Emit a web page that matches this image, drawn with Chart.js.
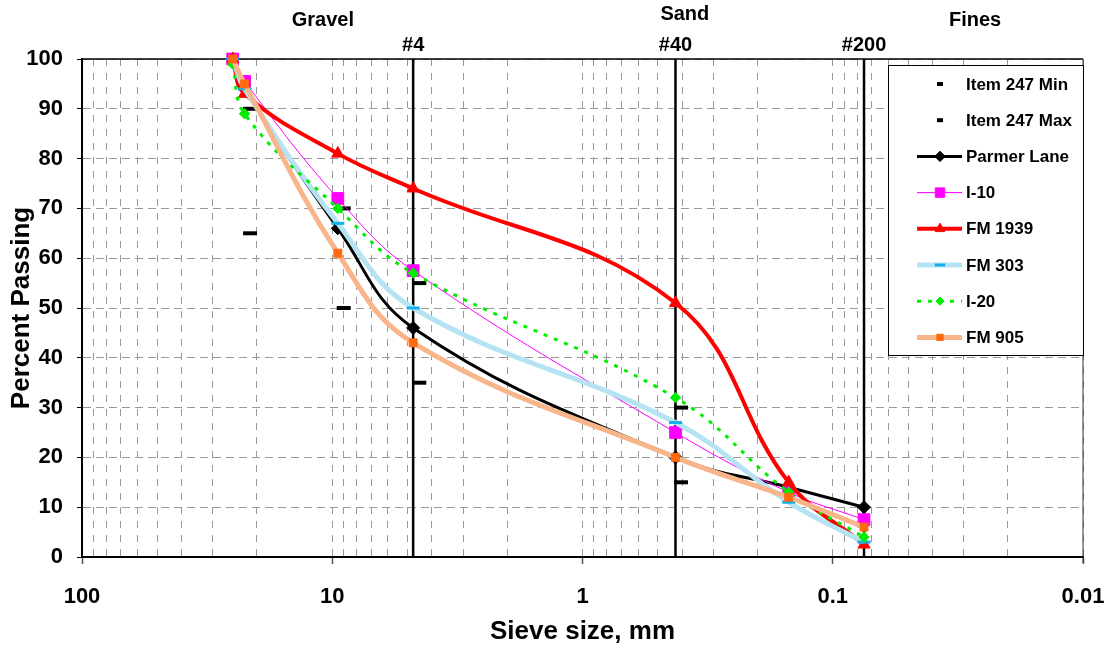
<!DOCTYPE html>
<html>
<head>
<meta charset="utf-8">
<title>Gradation</title>
<script src="https://cdn.jsdelivr.net/npm/chart.js"></script>
<style>
  html, body { margin: 0; padding: 0; background: #fff; }
  #wrap { width: 1107px; height: 647px; }
</style>
</head>
<body>
<div id="wrap"><canvas id="gradation-chart" width="1107" height="647"></canvas></div>
<script>
// sieve sizes (mm) of the project samples
const sieveSizes = [25, 22.4, 9.5, 4.75, 0.425, 0.15, 0.075];
const parmerLane = [100, 94, 66, 46, 20, 14, 10];
const i10 = [100, 95.5, 72, 57.5, 25, 13, 7.5];
const fm1939 = [100, 93, 81, 74, 51, 15, 2.5];
const fm303 = [100, 94, 67, 50, 27, 11, 3];
const i20 = [99, 89, 70, 57, 32, 13, 4];
const fm905 = [100, 95, 61, 43, 20, 12, 6];

// Item 247 spec band
const specSizes = [21.3, 9, 4.49, 0.404];
const item247Min = [65, 50, 35, 15];
const item247Max = [90, 70, 55, 30];

// sieve boundary lines and labels
const sieveLines = [4.75, 0.425, 0.075];
const sieveLabels = ['#4', '#40', '#200'];
const zoneLabels = ['Gravel', 'Sand', 'Fines'];

// axes
const xDecades = [100, 10, 1, 0.1, 0.01];
const xTickLabels = ['100', '10', '1', '0.1', '0.01'];
const yMin = 0, yMax = 100, yStep = 10;

const FONT = '"Liberation Sans", Arial, Helvetica, sans-serif';
Chart.defaults.font.family = FONT;
Chart.defaults.font.weight = 'bold';
Chart.defaults.color = '#000';

function pts(xs, ys) {
  return xs.map((x, i) => ({ x: x, y: ys[i] }));
}
function isDecade(v) {
  return xDecades.some(d => Math.abs(d - v) < d * 1e-6);
}

// 1..9 x each decade, for the log grid
var xGridValues = [];
xDecades.slice(1).forEach(d => {
  for (var k = 1; k <= 9; k++) xGridValues.push(k * d);
});
xGridValues.push(xDecades[0]);

function series(label, ys, o) {
  return Object.assign({
    label: label,
    data: pts(sieveSizes, ys),
    fill: false,
    tension: 0.4,
    clip: false,
    inLegend: true
  }, o);
}

var datasets = [];
sieveLines.forEach(x => {
  datasets.push({
    data: [{ x: x, y: yMin }, { x: x, y: yMax }],
    borderColor: '#000',
    borderWidth: 2.5,
    pointRadius: 0,
    tension: 0,
    order: 30
  });
});
datasets.push({
  label: 'Item 247 Min', data: pts(specSizes, item247Min), showLine: false,
  pointStyle: 'line', pointRadius: 7, pointBorderWidth: 4, pointBorderColor: '#000',
  clip: false, order: 9, inLegend: true, legendRadius: 3
});
datasets.push({
  label: 'Item 247 Max', data: pts(specSizes, item247Max), showLine: false,
  pointStyle: 'line', pointRadius: 7, pointBorderWidth: 4, pointBorderColor: '#000',
  clip: false, order: 8, inLegend: true, legendRadius: 3
});
datasets.push(series('Parmer Lane', parmerLane, {
  borderColor: '#000', borderWidth: 3, pointStyle: 'rectRot', pointRadius: 6.5,
  pointBackgroundColor: '#000', pointBorderColor: '#000', pointBorderWidth: 1, order: 7
}));
datasets.push(series('I-10', i10, {
  borderColor: '#ff00ff', borderWidth: 1, pointStyle: 'rect', pointRadius: 8.3,
  pointBackgroundColor: '#ff00ff', pointBorderColor: '#ff00ff', pointBorderWidth: 1, order: 6
}));
datasets.push(series('FM 1939', fm1939, {
  borderColor: '#ff0000', borderWidth: 4, pointStyle: 'triangle', pointRadius: 7,
  pointBackgroundColor: '#ff0000', pointBorderColor: '#ff0000', pointBorderWidth: 1, order: 5
}));
datasets.push(series('FM 303', fm303, {
  borderColor: '#b5e3f3', borderWidth: 5, pointStyle: 'line', pointRadius: 6.5,
  pointBackgroundColor: '#12b0ea', pointBorderColor: '#12b0ea', pointBorderWidth: 3, order: 4
}));
datasets.push(series('I-20', i20, {
  borderColor: '#00ee00', borderWidth: 3, borderDash: [4, 7], pointStyle: 'rectRot', pointRadius: 5.2,
  pointBackgroundColor: '#00ee00', pointBorderColor: '#00ee00', pointBorderWidth: 1, order: 3
}));
datasets.push(series('FM 905', fm905, {
  borderColor: '#f9b58a', borderWidth: 5, pointStyle: 'rect', pointRadius: 5.6,
  pointBackgroundColor: '#ff6a10', pointBorderColor: '#ff6a10', pointBorderWidth: 1, order: 2
}));

// white page + top/right frame of the plot
const framePlugin = {
  id: 'frame',
  beforeDraw(chart) {
    const c = chart.ctx;
    c.save();
    c.fillStyle = '#fff';
    c.fillRect(0, 0, chart.width, chart.height);
    c.restore();
  },
  beforeDatasetsDraw(chart) {
    const c = chart.ctx, a = chart.chartArea;
    c.save();
    c.strokeStyle = '#000';
    c.lineWidth = 1.5;
    c.beginPath();
    c.moveTo(a.left, a.top);
    c.lineTo(a.right, a.top);
    c.stroke();
    c.strokeStyle = '#333';
    c.lineWidth = 1;
    c.beginPath();
    c.moveTo(a.right, a.top);
    c.lineTo(a.right, a.bottom + 6);
    c.stroke();
    c.restore();
  }
};

// sieve and soil zone labels over the plot
const zoneAnchors = [10.9, 0.39, 0.027];
const zoneRise = [39, 45, 39];
const labelPlugin = {
  id: 'zoneLabels',
  afterDraw(chart) {
    const c = chart.ctx, xs = chart.scales.x, top = chart.chartArea.top;
    c.save();
    c.fillStyle = '#000';
    c.textAlign = 'center';
    c.textBaseline = 'middle';
    c.font = 'bold 20px ' + FONT;
    sieveLines.forEach((v, i) => {
      c.fillText(sieveLabels[i], xs.getPixelForValue(v), top - 14);
    });
    zoneLabels.forEach((t, i) => {
      c.fillText(t, xs.getPixelForValue(zoneAnchors[i]), top - zoneRise[i]);
    });
    c.restore();
  }
};

function drawMarker(c, ds, x, y, r) {
  c.fillStyle = ds.pointBackgroundColor || ds.pointBorderColor;
  c.strokeStyle = ds.pointBorderColor;
  const opts = { pointStyle: ds.pointStyle, radius: r, rotation: 0, borderWidth: ds.pointBorderWidth };
  c.lineWidth = ds.pointBorderWidth;
  c.setLineDash([]);
  Chart.helpers.drawPoint(c, opts, x, y);
}

const legendPlugin = {
  id: 'boxLegend',
  afterDraw(chart) {
    const c = chart.ctx, a = chart.chartArea;
    const w = 195, h = 290;
    const bx = a.right - w, by = a.top + 6;
    c.save();
    c.fillStyle = '#fff';
    c.fillRect(bx, by, w, h);
    c.strokeStyle = '#000';
    c.lineWidth = 1;
    c.strokeRect(bx + 0.5, by + 0.5, w, h);
    const items = chart.data.datasets.filter(d => d.inLegend);
    items.forEach((ds, i) => {
      const y = by + 19 + i * 36.2;
      if (ds.showLine !== false) {
        c.strokeStyle = ds.borderColor;
        c.lineWidth = ds.borderWidth;
        c.setLineDash(ds.borderDash || []);
        c.beginPath();
        c.moveTo(bx + 29, y);
        c.lineTo(bx + 74, y);
        c.stroke();
      }
      drawMarker(c, ds, bx + 52, y, ds.legendRadius || ds.pointRadius * 0.8);
      c.fillStyle = '#000';
      c.font = 'bold 17px ' + FONT;
      c.textAlign = 'left';
      c.textBaseline = 'middle';
      c.fillText(ds.label, bx + 78, y + 1);
    });
    c.restore();
  }
};

var ctx = document.getElementById('gradation-chart').getContext('2d');
window.gradationChart = new Chart(ctx, {
  type: 'line',
  data: { datasets: datasets },
  plugins: [framePlugin, labelPlugin, legendPlugin],
  options: {
    responsive: false,
    animation: false,
    layout: { padding: { top: 59, right: 24, left: 0, bottom: 0 } },
    plugins: {
      legend: { display: false },
      tooltip: { enabled: false }
    },
    scales: {
      x: {
        type: 'logarithmic',
        reverse: true,
        min: 0.01,
        max: 100,
        afterBuildTicks: s => {
          s.ticks = xGridValues.map(v => ({ value: v, major: isDecade(v) }));
        },
        afterFit: s => { s.height = 90; },
        ticks: {
          autoSkip: false,
          maxRotation: 0,
          minRotation: 0,
          padding: 20,
          color: '#000',
          font: { size: 22, weight: 'bold' },
          callback: v => {
            const i = xDecades.findIndex(d => Math.abs(d - v) < d * 1e-6);
            return i >= 0 ? xTickLabels[i] : '';
          }
        },
        grid: {
          color: '#999',
          lineWidth: 1,
          tickLength: 7,
          tickWidth: 1.5,
          tickColor: c => (c.tick && isDecade(c.tick.value)) ? '#555' : 'rgba(0,0,0,0)'
        },
        border: { display: true, color: '#000', width: 2, dash: [7, 7] },
        title: {
          display: true,
          text: 'Sieve size, mm',
          color: '#000',
          font: { size: 26, weight: 'bold' },
          padding: { top: 0, bottom: 0 }
        }
      },
      y: {
        min: yMin,
        max: yMax,
        afterFit: s => { s.width = 82; },
        ticks: {
          stepSize: yStep,
          padding: 14,
          color: '#000',
          font: { size: 22, weight: 'bold' }
        },
        grid: { color: '#999', lineWidth: 1, tickLength: 5, tickColor: '#000' },
        border: { display: true, color: '#000', width: 2, dash: [8, 5] },
        title: {
          display: true,
          text: 'Percent Passing',
          color: '#000',
          font: { size: 26, weight: 'bold' },
          padding: { top: 6, bottom: 0 }
        }
      }
    }
  }
});
</script>
</body>
</html>
